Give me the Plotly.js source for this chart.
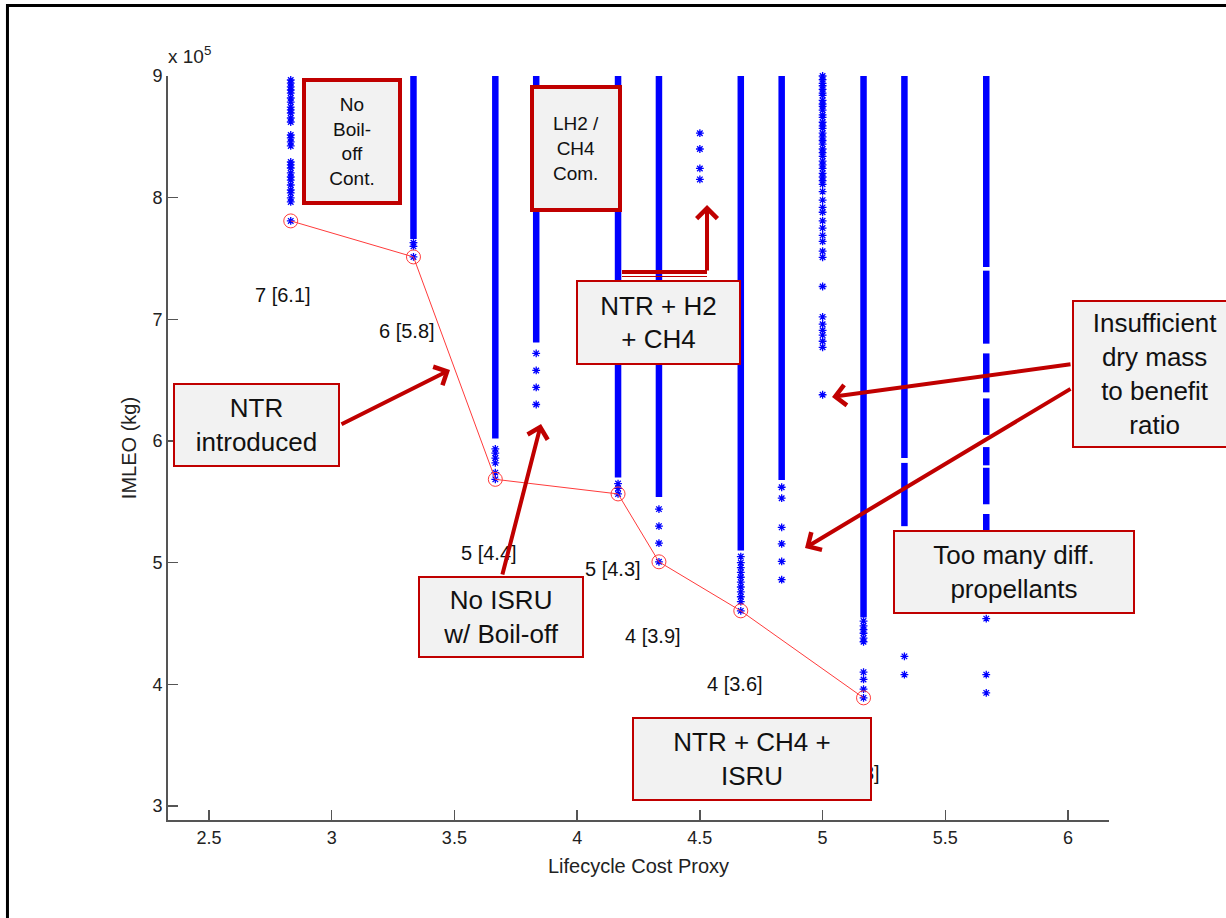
<!DOCTYPE html>
<html><head><meta charset="utf-8">
<script src="https://cdn.plot.ly/plotly-3.0.1.min.js"></script>
<style>html,body{margin:0;padding:0;background:#fff;} #chart{width:1226px;height:918px;}</style>
</head><body><div id="chart"></div>
<script>
// x: Lifecycle Cost Proxy ; y: IMLEO in units of 1e5 kg
const xTickVals = [2.5, 3, 3.5, 4, 4.5, 5, 5.5, 6];
const xTickText = ["2.5", "3", "3.5", "4", "4.5", "5", "5.5", "6"];
const yTickVals = [3, 4, 5, 6, 7, 8, 9];
const yTickText = ["3", "4", "5", "6", "7", "8", "9"];

// dense stacks of designs (read as continuous runs): column x, low, high
const denseX    = [3.3333, 3.6667, 3.8333, 4.1667, 4.3333, 4.6667, 4.8333, 5.1667, 5.3333, 5.3333, 5.6667, 5.6667, 5.6667, 5.6667, 5.6667, 5.6667, 5.6667];
const denseLow  = [7.66,   6.02,   6.81,   5.70,   5.54,   5.10,   5.68,   4.55,   5.86,   5.30,   7.43,   6.80,   6.40,   6.05,   5.80,   5.48,   5.26];
const denseHigh = [9.00,   9.00,   9.00,   9.00,   9.00,   9.00,   9.00,   9.00,   9.00,   5.82,   9.00,   7.40,   6.72,   6.35,   5.95,   5.78,   5.40];

// individually visible designs per column
const colX = [2.8333, 3.3333, 3.6667, 3.8333, 4.1667, 4.3333, 4.5, 4.6667, 4.8333, 5.0, 5.1667, 5.3333, 5.6667];
const pts_2_83 = [8.967, 8.942, 8.910, 8.885, 8.860, 8.819, 8.786, 8.745, 8.721, 8.696, 8.655, 8.622, 8.515, 8.491, 8.458, 8.425, 8.293, 8.269, 8.244, 8.203, 8.170, 8.145, 8.104, 8.063, 8.039, 7.998, 7.965, 7.809];
const pts_3_33 = [7.63, 7.60, 7.513];
const pts_3_67 = [5.935, 5.90, 5.86, 5.82, 5.74, 5.685];
const pts_3_83 = [6.72, 6.58, 6.44, 6.30];
const pts_4_17 = [5.65, 5.61, 5.565];
const pts_4_33 = [5.44, 5.30, 5.16, 5.007];
const pts_4_50 = [8.53, 8.40, 8.24, 8.15];
const pts_4_67 = [5.05, 5.00, 4.96, 4.92, 4.88, 4.84, 4.80, 4.76, 4.72, 4.68, 4.604];
const pts_4_83 = [5.62, 5.53, 5.29, 5.155, 5.01, 4.86];
const pts_5_00 = [9.00, 8.97, 8.94, 8.92, 8.89, 8.86, 8.84, 8.80, 8.77, 8.75, 8.72, 8.68, 8.66, 8.62, 8.59, 8.57, 8.53, 8.50, 8.47, 8.44, 8.40, 8.37, 8.34, 8.30, 8.27, 8.24, 8.20, 8.17, 8.14, 8.11, 8.05, 7.98, 7.92, 7.88, 7.81, 7.75, 7.69, 7.64, 7.56, 7.51, 7.27, 7.02, 6.96, 6.91, 6.87, 6.82, 6.77, 6.38];
const pts_5_17 = [4.52, 4.48, 4.45, 4.42, 4.38, 4.35, 4.10, 4.04, 3.96, 3.889];
const pts_5_33 = [4.23, 4.08];
const pts_5_67 = [4.54, 4.08, 3.93];
const colPts = [pts_2_83, pts_3_33, pts_3_67, pts_3_83, pts_4_17, pts_4_33, pts_4_50, pts_4_67, pts_4_83, pts_5_00, pts_5_17, pts_5_33, pts_5_67];

// Pareto front (circled designs)
const paretoX = [2.8333, 3.3333, 3.6667, 4.1667, 4.3333, 4.6667, 5.1667];
const paretoY = [7.809, 7.513, 5.685, 5.565, 5.007, 4.604, 3.889];

// labels next to the front
const labelText = ["7 [6.1]", "6 [5.8]", "5 [4.4]", "5 [4.3]", "4 [3.9]", "4 [3.6]", "3 [3.3]"];
const labelX = [2.8018, 3.3069, 3.6390, 4.1441, 4.3071, 4.6432, 5.1198];
const labelY = [7.200, 6.904, 5.080, 4.948, 4.397, 4.003, 3.271];

const FONT = "Liberation Sans, Arial, Helvetica, sans-serif";
const RED = "#c00000";
const BOXBG = "#f2f2f2";

const dx = [], dy = [];
denseX.forEach((c, i) => { dx.push(c, c, null); dy.push(denseLow[i], denseHigh[i], null); });
const px = [], py = [];
colX.forEach((c, i) => colPts[i].forEach(v => { px.push(c); py.push(v); }));

const traces = [
  {x: dx, y: dy, type: "scatter", mode: "lines", line: {color: "#0000ff", width: 6.5}, hoverinfo: "skip", showlegend: false, cliponaxis: false},
  {x: px, y: py, type: "scatter", mode: "markers", marker: {symbol: "asterisk-open", size: 6.5, color: "#0000ff", line: {width: 1.3, color: "#0000ff"}}, showlegend: false, cliponaxis: false},
  {x: paretoX, y: paretoY, type: "scatter", mode: "lines+markers", line: {color: "#ff3b3b", width: 1}, marker: {symbol: "circle-open", size: 14, color: "#ff3b3b", line: {width: 1}}, showlegend: false}
];

const ann = [];
labelText.forEach((t, i) => ann.push({x: labelX[i], y: labelY[i], xref: "x", yref: "y", xanchor: "center", yanchor: "middle", text: t, showarrow: false, font: {family: FONT, size: 20, color: "#111"}}));

function box(text, xp, yp, w, h, bw, size) {
  return {x: xp, y: yp, xref: "paper", yref: "paper", xanchor: "center", yanchor: "middle", text: text, showarrow: false, bgcolor: BOXBG, bordercolor: RED, borderwidth: bw, borderpad: 0, width: w, height: h, align: "center", valign: "middle", font: {family: FONT, size: size, color: "#111"}};
}
function arrow(hx, hy, tx, ty) {
  return {x: hx, y: hy, xref: "x", yref: "y", ax: tx, ay: ty, axref: "x", ayref: "y", text: "", showarrow: true, arrowhead: 4, arrowsize: 1, arrowwidth: 4, arrowcolor: RED, standoff: 0, startstandoff: 0};
}

ann.push(arrow(3.482, 6.584, 3.034, 6.132));
ann.push(arrow(3.8529, 6.140, 3.6940, 4.890));
ann.push(arrow(4.5291, 7.940, 4.5291, 7.389));
ann.push(arrow(5.0383, 6.362, 6.0161, 6.633));
ann.push(arrow(4.9283, 5.1206, 6.0161, 6.436));

ann.push(box("No<br>Boil-<br>off<br>Cont.", 0.1952, 0.9113, 92, 119, 4, 19));
ann.push(box("LH2 /<br>CH4<br>Com.", 0.4334, 0.9028, 84, 119, 4, 19));
ann.push(box("NTR + H2<br>+ CH4", 0.5213, 0.6687, 161, 81, 2, 26));
ann.push(box("NTR<br>introduced", 0.0940, 0.5309, 163, 80, 2, 26));
ann.push(box("No ISRU<br>w/ Boil-off", 0.3539, 0.2728, 162, 78, 2, 26));
ann.push(box("Insufficient<br>dry mass<br>to benefit<br>ratio", 1.0489, 0.5995, 162, 144, 2, 26));
ann.push(box("Too many diff.<br>propellants", 0.8990, 0.3333, 238, 80, 2, 26));
ann.push(box("NTR + CH4 +<br>ISRU", 0.6203, 0.0824, 236, 80, 2, 26));

ann.push({x: -0.002, y: 1.0282, xref: "paper", yref: "paper", xanchor: "left", yanchor: "middle", text: "x 10<sup>5</sup>", showarrow: false, font: {family: FONT, size: 19, color: "#222"}});

const shapes = [
  {type: "line", xref: "x", yref: "y", x0: 4.1828, x1: 4.5291, y0: 7.389, y1: 7.389, line: {color: RED, width: 4}},
  {type: "line", xref: "x", yref: "y", x0: 4.1828, x1: 4.5291, y0: 7.352, y1: 7.352, line: {color: RED, width: 1}},
  {type: "rect", xref: "paper", yref: "paper", x0: -0.1706, x1: 1.25, y0: -0.25, y1: 1.0948, line: {color: "#000", width: 3}, fillcolor: "rgba(0,0,0,0)"}
];

const axisCommon = {showgrid: false, zeroline: false, showline: true, linecolor: "#555", linewidth: 2, ticks: "inside", ticklen: 10, tickwidth: 1.5, tickcolor: "#555", tickfont: {family: FONT, size: 18, color: "#222"}, mirror: false};

const layout = {
  width: 1226, height: 918,
  margin: {l: 168, r: 117, t: 76, b: 98, pad: 0},
  paper_bgcolor: "#fff", plot_bgcolor: "#fff",
  showlegend: false,
  font: {family: FONT},
  xaxis: Object.assign({}, axisCommon, {range: [2.3333, 6.1667], tickmode: "array", tickvals: xTickVals, ticktext: xTickText, title: {text: "Lifecycle Cost Proxy", font: {family: FONT, size: 20, color: "#222"}, standoff: 12}}),
  yaxis: Object.assign({}, axisCommon, {range: [2.885, 9.0], tickmode: "array", tickvals: yTickVals, ticktext: yTickText, title: {text: "IMLEO (kg)", font: {family: FONT, size: 20, color: "#222"}, standoff: 10}}),
  annotations: ann,
  shapes: shapes
};

Plotly.newPlot("chart", traces, layout, {displayModeBar: false, staticPlot: true});
</script></body></html>
